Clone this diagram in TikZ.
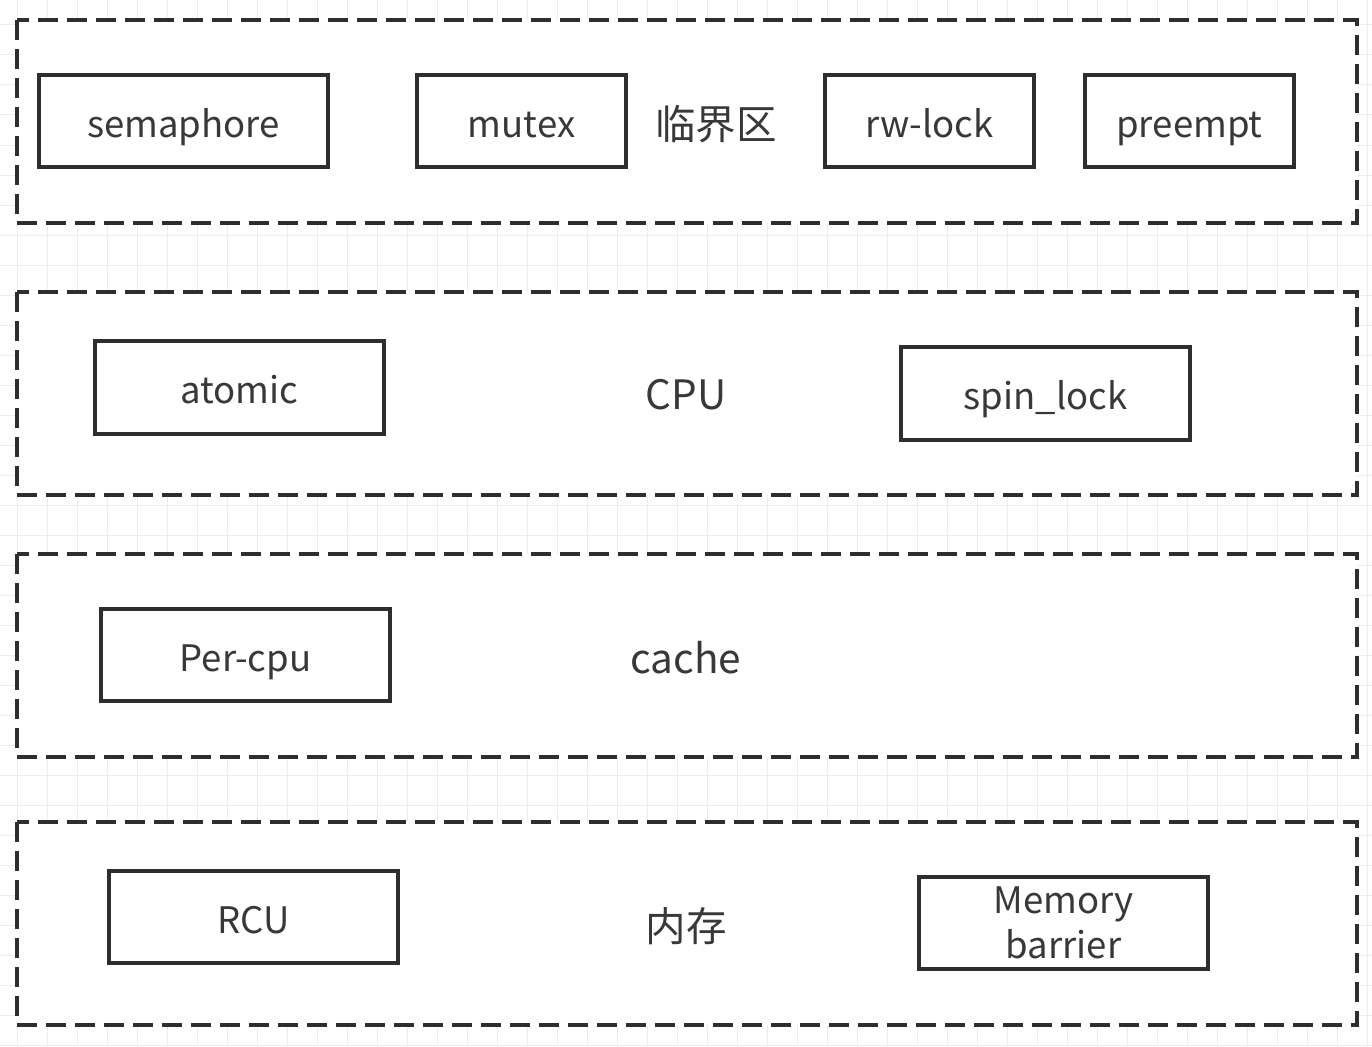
\documentclass[tikz,border=0pt]{standalone}
\usepackage{fontspec}
\setmainfont{Noto Sans CJK SC}
\begin{document}
\begin{tikzpicture}[x=1pt,y=-1pt,
  layer/.style={draw=black!82,line width=3.2pt,dash pattern=on 20pt off 9pt,fill=white},
  boxbase/.style={draw=black!82,line width=3.2pt,fill=white,inner sep=0pt,text=black!78,font=\fontsize{36.5}{45}\selectfont,align=center},
  item/.style={boxbase,text height=32pt,text depth=0pt},
  lbl/.style={text=black!78,font=\fontsize{40.5}{44}\selectfont}]
\useasboundingbox (0,0) rectangle (1372,1046);
\fill[white] (0,0) rectangle (1372,1046);
\foreach \x in {17,47,...,1372} \draw[black!7,line width=1pt] (\x,0) -- (\x,1046);
\foreach \y in {25,55,...,1046} \draw[black!7,line width=1pt] (0,\y) -- (1372,\y);
\draw[layer] (17,20) rectangle (1357,223);
\draw[layer] (17,292) rectangle (1357,495);
\draw[layer] (17,554) rectangle (1357,757);
\draw[layer] (17,822) rectangle (1357,1025);
% row 1
\node[item,minimum width=289pt,minimum height=92pt] (sem) at (183.5,121) {semaphore};
\node[item,minimum width=209pt,minimum height=92pt] (mut) at (521.5,121) {mutex};
\node[lbl] (crit) at (716,124) {临界区};
\node[item,minimum width=209pt,minimum height=92pt] (rw) at (929.5,121) {rw-lock};
\node[item,minimum width=209pt,minimum height=92pt] (pre) at (1189.5,121) {preempt};
% row 2
\node[item,minimum width=289pt,minimum height=93pt] (ato) at (239.5,387.5) {atomic};
\node[lbl] (cpu) at (686,395) {CPU};
\node[item,minimum width=289pt,minimum height=93pt] (spin) at (1045.5,393.5) {spin\_lock};
% row 3
\node[item,minimum width=289pt,minimum height=92pt] (per) at (245.5,655) {Per-cpu};
\node[lbl] (cache) at (686,658) {cache};
% row 4
\node[item,minimum width=289pt,minimum height=92pt] (rcu) at (253.5,917) {RCU};
\node[lbl] (mem) at (686,926) {内存};
\node[boxbase,minimum width=289pt,minimum height=92pt] (mb) at (1063.5,923) {Memory\\barrier};
\end{tikzpicture}
\end{document}
